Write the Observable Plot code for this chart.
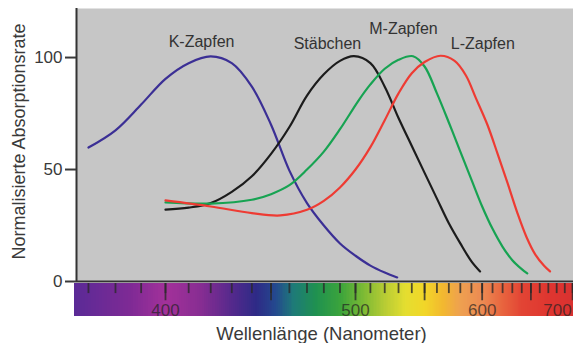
<!DOCTYPE html>
<html><head><meta charset="utf-8">
<script src="https://cdn.jsdelivr.net/npm/d3@7"></script>
<script src="https://cdn.jsdelivr.net/npm/@observablehq/plot@0.6"></script>
<style>
html,body{margin:0;padding:0;background:#fff;}
#chart{width:573px;height:343px;overflow:hidden;}
svg{display:block;}
</style></head><body><div id="chart"></div>
<script>
// ---- data ----
const seriesNames = ["K-Zapfen", "Stäbchen", "M-Zapfen", "L-Zapfen"];
const seriesColors = ["#3b2f95", "#1c1c1c", "#17a352", "#ee3b33"];

const kWl  = [370, 380, 390, 400, 410, 420, 430, 440, 450, 460, 470, 480, 490, 500, 510, 520, 529];
const kVal = [59.8, 67.5, 79, 90.5, 97.5, 100.5, 97.5, 87, 70, 49.5, 35, 25, 17, 11.5, 7.1, 4, 1.8];

const sWl  = [400, 410, 420, 430, 440, 450, 460, 470, 480, 490, 499, 510, 520, 530, 540, 550, 560, 570, 580, 590, 598];
const sVal = [32.1, 33, 35, 40, 47, 57, 69, 83, 92.5, 98.5, 100.6, 97.5, 87, 73, 60.5, 48.5, 37, 26, 17, 9, 4.5];

const mWl  = [400, 420, 440, 450, 460, 470, 480, 490, 502, 510, 520, 530, 541, 550, 560, 570, 580, 590, 600, 610, 620, 630, 640, 646];
const mVal = [35.3, 34.8, 36.5, 39, 43, 50, 58, 68, 80.8, 88, 95, 99, 100.6, 96, 84, 71, 58, 45.5, 33.5, 23.5, 15.5, 9.5, 5.5, 3.6];

const lWl  = [400, 420, 440, 455, 470, 480, 490, 500, 510, 520, 530, 540, 550, 563, 575, 585, 594, 605, 615, 625, 635, 645, 655, 665, 672];
const lVal = [36.2, 33.5, 30.5, 29.5, 32, 36, 42, 50, 60, 72, 84, 93, 98, 100.8, 98.5, 92, 82, 70, 57, 44, 31, 20, 12, 7, 4.5];

// label anchor points (wavelength, value)
const labelWl  = [415.8, 482.2, 533.7, 600.6];
const labelVal = [107.2, 106.3, 113, 106.3];

// spectrum colour stops
const specWl    = [365, 385, 400, 415, 430, 442, 452, 462, 475, 490, 505, 520, 535, 550, 565, 580, 600, 620, 640, 670, 705];
const specColor = ["#5b2a96", "#7e2a95", "#a3319a", "#872d92", "#54298c", "#2e2a86", "#24488e", "#1e7a78", "#1f9150", "#3ba43c",
                   "#7cba34", "#b8cc34", "#e4de30", "#f2d628", "#f2b830", "#eea050", "#ec8a52", "#e8643e", "#e24434", "#df3630", "#d83030"];

const minorTicks = [370, 380, 390, 400, 410, 420, 430, 440, 450, 460, 470, 480, 490, 500, 510, 520, 530, 540, 550, 560, 570, 580, 590, 600, 610, 620, 630, 640, 650, 660, 670, 680, 690, 700];
const majorTicks = [400, 450, 500, 550, 600, 650, 700];
const xTickLabels = [400, 500, 600];
const xTickLabelEnd = [700];
const yTicks = [0, 50, 100];

// ---- build tables ----
const wlArrays = [kWl, sWl, mWl, lWl];
const valArrays = [kVal, sVal, mVal, lVal];
const curves = seriesNames.flatMap((name, i) =>
  wlArrays[i].map((w, j) => ({series: name, color: seriesColors[i], wl: w, v: valArrays[i][j]})));
const labels = seriesNames.map((name, i) => ({name, wl: labelWl[i], v: labelVal[i]}));

const specScale = d3.scaleLinear().domain(specWl).range(specColor).interpolate(d3.interpolateRgb);
const spectrum = d3.range(365, 702, 1).map(w => ({w, c: specScale(w)}));

// wavelength axis is linear in frequency (1/λ)
const X = w => 1000 / w;

const chart = Plot.plot({
  width: 573, height: 343,
  marginLeft: 76, marginRight: 0, marginTop: 8, marginBottom: 62,
  style: {fontFamily: "'Liberation Sans', Arial, sans-serif", background: "transparent"},
  x: {domain: [X(365.74), X(701.1)], axis: null},
  y: {domain: [0, 121.9], axis: null},
  color: {type: "identity"},
  marks: [
    Plot.frame({fill: "#c6c6c6", stroke: null}),
    Plot.rect(spectrum, {x1: d => X(d.w), x2: d => X(d.w + 1.3), y1: -0.9, y2: -15.6, fill: d => d.c, shapeRendering: "crispEdges"}),
    Plot.ruleX(minorTicks, {x: X, y1: -0.9, y2: -5.4, stroke: "#2a2a2a", strokeWidth: 1.8, strokeOpacity: 0.8}),
    Plot.ruleX(majorTicks, {x: X, y1: -0.9, y2: -8.6, stroke: "#2a2a2a", strokeWidth: 1.8, strokeOpacity: 0.8}),
    Plot.text(xTickLabels, {x: X, text: d => String(d), frameAnchor: "bottom", dy: 34.5, fontSize: 17, fill: "#222", fillOpacity: 0.7}),
    Plot.text(xTickLabelEnd, {x: X, text: d => String(d), frameAnchor: "bottom", dy: 34.5, dx: -1, textAnchor: "end", fontSize: 17, fill: "#222", fillOpacity: 0.7}),
    Plot.line(curves, {x: d => X(d.wl), y: "v", z: "series", stroke: d => d.color, strokeWidth: 2.2, curve: "catmull-rom"}),
    Plot.text(labels, {x: d => X(d.wl), y: "v", text: "name", fontSize: 16, fill: "#333"}),
    Plot.ruleY([0], {stroke: "#333", strokeWidth: 2}),
    Plot.ruleX([365.74], {x: X, stroke: "#333", strokeWidth: 2}),
    Plot.axisY(yTicks, {tickSize: 11, tickPadding: 3, fontSize: 17, color: "#3a3a3a", strokeWidth: 2, label: null}),
    Plot.text(["Normalisierte Absorptionsrate"], {text: d => d, frameAnchor: "left", textAnchor: "middle", rotate: -90, dx: -56.8, dy: -3.5, fontSize: 18, fill: "#3a3a3a"}),
    Plot.text(["Wellenlänge (Nanometer)"], {text: d => d, frameAnchor: "bottom", dx: -3.5, dy: 58, fontSize: 18.5, fill: "#3a3a3a"})
  ]
});
document.getElementById("chart").appendChild(chart);
</script>
</body></html>
